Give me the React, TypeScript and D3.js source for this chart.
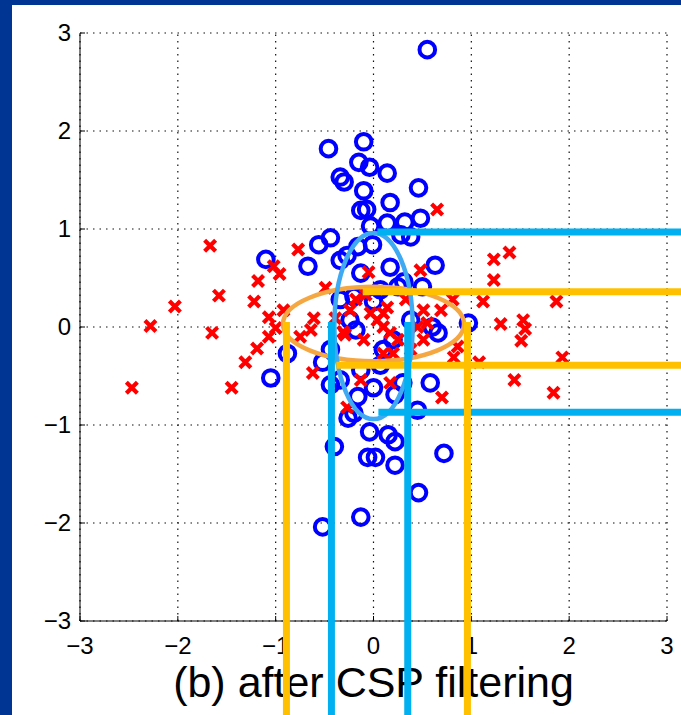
import React from "react";
import * as d3 from "d3";

const xTicks = [-3, -2, -1, 0, 1, 2, 3];
const yTicks = [-3, -2, -1, 0, 1, 2, 3];
const title = "(b) after CSP filtering";

const blueX = [0.55,-0.10,-0.46,-0.15,-0.04,0.14,-0.34,-0.30,-0.10,0.46,0.17,-0.13,-0.07,0.48,0.32,0.14,-0.03,-1.10,-0.56,-0.44,-0.67,-0.27,-0.16,-0.01,0.17,0.28,0.38,0.63,-0.13,-0.20,0.00,0.25,0.31,0.50,0.97,0.60,-1.05,-0.88,-0.52,-0.44,-0.16,0.00,0.58,0.66,0.30,0.10,0.20,0.45,-0.20,-0.26,-0.04,0.15,0.22,-0.40,-0.06,0.02,0.22,0.72,0.46,-0.13,-0.52,-0.34,-0.18,0.07,-0.13,-0.34,0.22,-0.44,0.38,-0.34,0.07,-0.24];
const blueY = [2.83,1.89,1.82,1.68,1.63,1.57,1.53,1.48,1.39,1.42,1.27,1.19,1.20,1.11,1.07,1.06,1.03,0.69,0.84,0.91,0.62,0.73,0.82,0.84,0.61,0.94,0.92,0.63,0.55,0.31,0.26,0.41,0.46,0.41,0.04,0.00,-0.52,-0.27,-0.36,-0.59,-0.71,-0.62,-0.57,-0.06,-0.57,-0.23,-0.13,-0.85,-0.88,-0.93,-1.07,-1.10,-1.17,-1.22,-1.33,-1.33,-1.41,-1.29,-1.69,-1.94,-2.04,0.28,-0.03,-0.39,-0.44,-0.54,-0.69,-0.23,0.07,0.68,0.38,0.07];

const redX = [-2.47,-2.28,-2.03,-1.67,-1.58,-1.65,-1.45,-1.31,-1.19,-1.22,-1.18,-1.02,-0.96,-1.07,-1.07,-1.00,-0.77,-0.49,-0.61,-0.64,-0.75,-0.62,-0.24,-0.31,-0.10,-0.03,0.04,0.10,0.17,0.25,0.10,0.14,0.51,0.55,0.51,0.82,0.38,0.20,0.10,-0.13,0.17,0.70,-0.27,-0.05,0.48,0.65,1.23,1.39,1.23,1.12,1.87,1.30,1.53,1.55,1.51,1.93,1.08,1.44,1.84,0.81,0.86,-0.29,0.45,-0.92,-0.18,-0.39,0.33,0.69,-0.08];
const redY = [-0.62,0.01,0.21,0.83,0.32,-0.06,-0.62,-0.36,-0.22,0.26,0.47,0.62,0.54,0.10,-0.10,-0.01,0.79,0.40,0.09,-0.03,-0.10,-0.47,0.17,-0.05,-0.13,0.14,0.07,0.00,-0.06,-0.13,0.14,0.20,0.17,0.04,-0.13,-0.31,-0.23,-0.27,-0.27,-0.54,-0.57,-0.72,-0.82,0.56,0.58,1.20,0.69,0.76,0.48,0.26,0.26,0.03,0.07,-0.02,-0.14,-0.31,-0.36,-0.54,-0.67,0.28,-0.20,-0.08,0.00,0.17,0.28,0.09,0.28,0.17,0.33];

// annotation overlays (data units)
const ellipseNames = ["orange", "blue"];
const ellipseCx = [0.0, 0.0];
const ellipseCy = [0.03, 0.01];
const ellipseRx = [0.925, 0.40];
const ellipseRy = [0.38, 0.95];
const ellipseColors = ["#f5a742", "#3fa9f2"];

const vLineX = [-0.89, 0.96, -0.43, 0.35];
const vLineTop = [0.05, 0.05, 0.05, 0.05];
const vLineColors = ["#ffc000", "#ffc000", "#00b0f0", "#00b0f0"];

const hLineY = [0.36, -0.39, 0.97, -0.87];
const hLineStart = [-0.11, -0.38, 0.04, 0.05];
const hLineColors = ["#ffc000", "#ffc000", "#00b0f0", "#00b0f0"];

const W = 681;
const H = 715;
const NAVY = "#003594";

export default function App() {
  const x = d3.scaleLinear().domain([-3, 3]).range([80, 667]);
  const y = d3.scaleLinear().domain([-3, 3]).range([621, 33]);
  const font = "'Liberation Sans', Arial, sans-serif";
  const cs = 5.5;

  return (
    <svg width={W} height={H} style={{ position: "absolute", left: 0, top: 0 }} fontFamily={font}>
      <rect x={0} y={0} width={W} height={H} fill={NAVY} />
      <rect x={12} y={5} width={W - 12} height={H - 5} fill="#ffffff" />

      {/* grid */}
      {xTicks.map((t) => (
        <line key={"gx" + t} x1={x(t)} x2={x(t)} y1={y(-3)} y2={y(3)} stroke="#111" strokeWidth={1.2} strokeDasharray="1.5,5" />
      ))}
      {yTicks.map((t) => (
        <line key={"gy" + t} x1={x(-3)} x2={x(3)} y1={y(t)} y2={y(t)} stroke="#111" strokeWidth={1.2} strokeDasharray="1.5,5" />
      ))}

      {/* axes */}
      <line x1={x(-3)} x2={x(-3)} y1={y(-3)} y2={y(3)} stroke="#000" strokeWidth={1} />
      <line x1={x(-3)} x2={x(3)} y1={y(-3)} y2={y(-3)} stroke="#000" strokeWidth={1} />
      {xTicks.map((t) => (
        <line key={"tx" + t} x1={x(t)} x2={x(t)} y1={y(-3)} y2={y(-3) - 5} stroke="#000" />
      ))}
      {yTicks.map((t) => (
        <line key={"ty" + t} x1={x(-3)} x2={x(-3) + 5} y1={y(t)} y2={y(t)} stroke="#000" />
      ))}
      {xTicks.map((t) => (
        <text key={"lx" + t} x={x(t)} y={y(-3) + 33} fontSize={24} textAnchor="middle" fill="#000">
          {t < 0 ? "\u2212" + Math.abs(t) : String(t)}
        </text>
      ))}
      {yTicks.map((t) => (
        <text key={"ly" + t} x={x(-3) - 9} y={y(t) + 8} fontSize={24} textAnchor="end" fill="#000">
          {t < 0 ? "\u2212" + Math.abs(t) : String(t)}
        </text>
      ))}

      {/* blue circles */}
      {blueX.map((v, i) => (
        <circle key={"b" + i} cx={x(v)} cy={y(blueY[i])} r={7.8} fill="none" stroke="#0000ff" strokeWidth={4} />
      ))}
      {/* red crosses */}
      {redX.map((v, i) => {
        const px = x(v);
        const py = y(redY[i]);
        return (
          <path key={"r" + i} d={`M${px - cs},${py - cs}L${px + cs},${py + cs}M${px - cs},${py + cs}L${px + cs},${py - cs}`} stroke="#ff0000" strokeWidth={4.2} />
        );
      })}

      {/* title */}
      <text x={x(0)} y={697} fontSize={43} textAnchor="middle" fill="#000">{title}</text>

      {/* ellipses */}
      {ellipseNames.map((n, i) => (
        <ellipse key={n} cx={x(ellipseCx[i])} cy={y(ellipseCy[i])} rx={x(ellipseRx[i]) - x(0)} ry={y(0) - y(ellipseRy[i])} fill="none" stroke={ellipseColors[i]} strokeWidth={4.5} />
      ))}

      {/* straight overlay lines */}
      {hLineY.map((v, i) => (
        <line key={"h" + i} x1={x(hLineStart[i])} x2={W} y1={y(v)} y2={y(v)} stroke={hLineColors[i]} strokeWidth={7} />
      ))}
      {vLineX.map((v, i) => (
        <line key={"v" + i} x1={x(v)} x2={x(v)} y1={y(vLineTop[i])} y2={H} stroke={vLineColors[i]} strokeWidth={7} />
      ))}
    </svg>
  );
}
